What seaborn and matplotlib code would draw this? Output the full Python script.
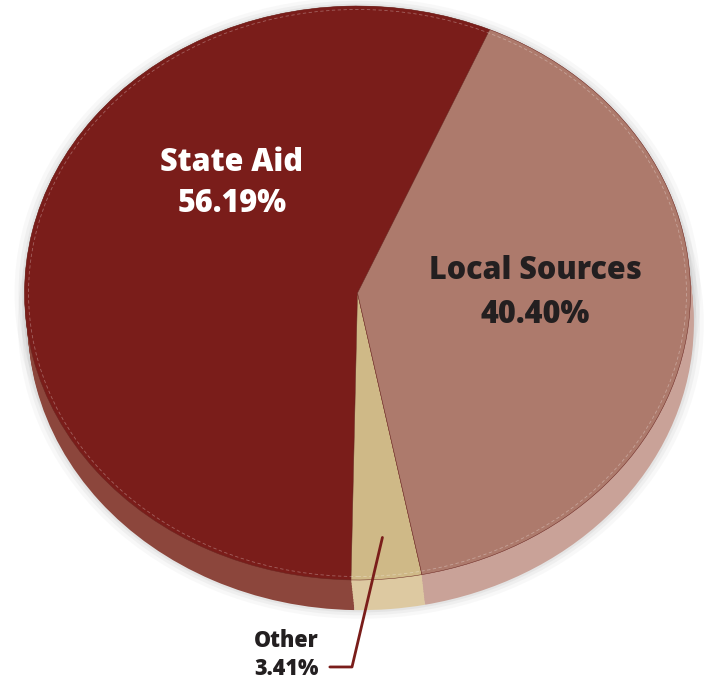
import numpy as np
import matplotlib
matplotlib.use('Agg')
import matplotlib.pyplot as plt
import seaborn as sns
from matplotlib.patches import Circle

# Dados do gráfico
categorias = ['State Aid', 'Other', 'Local Sources']
percentuais = [56.19, 3.41, 40.40]
cores_topo = ['#7a1d1a', '#cfb987', '#ad7a6c']
cores_lado = ['#8c463c', '#ddc9a1', '#c9a298']

sns.set_theme(style='white')
plt.rcParams['font.family'] = ['Open Sans', 'DejaVu Sans']

fig = plt.figure(figsize=(7.09, 6.93), dpi=100)
ax = fig.add_axes([0, 0, 1, 1])

inicio = 66.6
profundidade = 0.105
desloc_x = 0.01

# Sombra suave em volta
for r, a in [(1.03, 0.05), (1.018, 0.07), (1.008, 0.09)]:
    ax.add_patch(Circle((0, 0), r, color='#808080', alpha=a, lw=0, zorder=0))
    ax.add_patch(Circle((desloc_x, -profundidade), r, color='#808080', alpha=a, lw=0, zorder=0))

# Lateral (pizza deslocada para baixo)
for k in np.linspace(profundidade, 0, 12):
    ax.pie(percentuais, colors=cores_lado, startangle=inicio, counterclock=True,
           center=(desloc_x * k / profundidade, -k), radius=1,
           wedgeprops=dict(linewidth=0), frame=True)

# Topo
ax.pie(percentuais, colors=cores_topo, startangle=inicio, counterclock=True,
       center=(0, 0), radius=1,
       wedgeprops=dict(linewidth=0.35, edgecolor='#6a2520'), frame=True)

# Linha tracejada clara perto da borda
ax.add_patch(Circle((0, 0), 0.988, fill=False, ec='white', lw=0.6, ls=(0, (4, 3)),
                    alpha=0.3, zorder=5))

# Rótulos
ax.text(-0.377, 0.382, 'State Aid\n56.19%', color='white', fontsize=22,
        fontweight='heavy', ha='center', va='center', linespacing=1.36, zorder=6)
ax.text(0.533, 0.0, 'Local Sources\n40.40%', color='#231f20', fontsize=22,
        fontweight='heavy', ha='center', va='center', linespacing=1.5, zorder=6)
ax.text(-0.213, -1.262, 'Other\n3.41%', color='#231f20', fontsize=15.5,
        fontweight='heavy', ha='center', va='center', linespacing=1.2, zorder=6)

# Linha guia do "Other"
meio = np.deg2rad(inicio + 360 * (percentuais[0] + percentuais[1] / 2) / 100)
ax.plot([0.855 * np.cos(meio), -0.0165, -0.083],
        [0.855 * np.sin(meio), -1.303, -1.303], color='#7a1d1a', lw=2, zorder=6)

ax.set_aspect('auto')
ax.set_xlim(-1.0736, 1.0556)
ax.set_ylim(-1.3937, 1.0209)
ax.axis('off')

fig.savefig('out.png', dpi=100)
